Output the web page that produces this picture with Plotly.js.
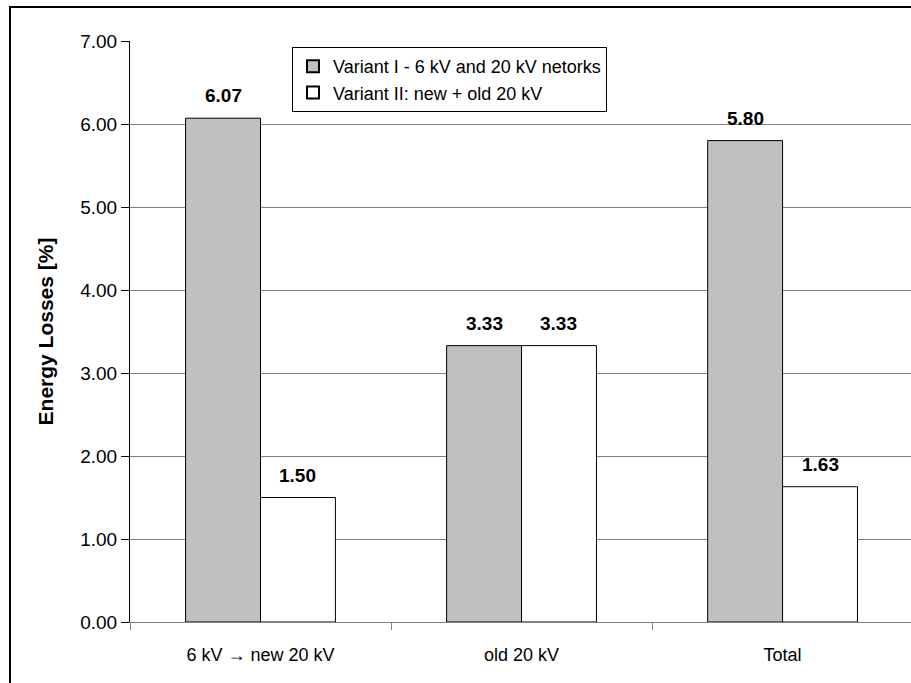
<!DOCTYPE html>
<html>
<head>
<meta charset="utf-8">
<script src="https://cdn.plot.ly/plotly-3.0.1.min.js"></script>
<style>
html,body{margin:0;padding:0;background:#fff;}
#chart{width:911px;height:683px;}
</style>
</head>
<body>
<div id="chart"></div>
<script>
var categories = ["6 kV \u2192 new 20 kV", "old 20 kV", "Total"];
var seriesNames = ["Variant I - 6 kV and 20 kV netorks", "Variant II: new + old 20 kV"];
var variant1 = [6.07, 3.33, 5.80];
var variant2 = [1.50, 3.33, 1.63];
var yTickValues = [0, 1, 2, 3, 4, 5, 6, 7];

var FONT = "Liberation Sans, Arial, sans-serif";
var bargap = 0.426;
var xRange = [-0.5, 2.492];
var plotW = 911 - 130;
var pxPerUnit = plotW / (xRange[1] - xRange[0]);
var barW = (1 - bargap) / 2;
var shiftPx = barW / 2 * pxPerUnit;

var traces = [
  {type: "bar", name: seriesNames[0], x: categories, y: variant1,
   marker: {color: "#c0c0c0", line: {color: "#000", width: 1}}, hoverinfo: "none"},
  {type: "bar", name: seriesNames[1], x: categories, y: variant2,
   marker: {color: "#ffffff", line: {color: "#000", width: 1}}, hoverinfo: "none"}
];

var annotations = [];
[variant1, variant2].forEach(function (vals, s) {
  vals.forEach(function (v, i) {
    annotations.push({
      x: categories[i], y: v, xref: "x", yref: "y",
      text: "<b>" + v.toFixed(2) + "</b>",
      showarrow: false, yanchor: "bottom", xanchor: "center",
      xshift: (s === 0 ? -1 : 1) * shiftPx, yshift: 10,
      font: {family: FONT, size: 19, color: "#000"}
    });
  });
});

var layout = {
  width: 911, height: 683,
  margin: {l: 130, r: 0, t: 41, b: 61},
  paper_bgcolor: "#fff", plot_bgcolor: "#fff",
  barmode: "group", bargap: bargap, bargroupgap: 0,
  showlegend: true,
  legend: {
    x: (292 - 130) / plotW, y: 1 - (47 - 41) / 581, xanchor: "left", yanchor: "top",
    bgcolor: "#fff", bordercolor: "#000", borderwidth: 1,
    font: {family: FONT, size: 18, color: "#000"},
    itemsizing: "constant", traceorder: "normal", itemwidth: 30
  },
  xaxis: {
    type: "category", range: xRange,
    showline: true, linecolor: "#808080", linewidth: 1,
    ticks: "outside", tickson: "boundaries", ticklen: 7, tickcolor: "#808080",
    showgrid: false, zeroline: false, ticklabelstandoff: 16,
    tickfont: {family: FONT, size: 18, color: "#000"},
    fixedrange: true
  },
  yaxis: {
    range: [0, 7], tickvals: yTickValues, tickformat: ".2f",
    showline: true, linecolor: "#000", linewidth: 1,
    ticks: "outside", ticklen: 8, tickcolor: "#000",
    showgrid: true, gridcolor: "#808080", gridwidth: 1, zeroline: false,
    tickfont: {family: FONT, size: 19, color: "#000"},
    title: {text: "<b>Energy Losses [%]</b>", font: {family: FONT, size: 21, color: "#000"}, standoff: 20},
    fixedrange: true
  },
  annotations: annotations,
  shapes: [{
    type: "rect", xref: "paper", yref: "paper",
    x0: (10 - 130) / plotW, x1: 1.05,
    y0: -0.3, y1: 1 + (41 - 7) / 581,
    line: {color: "#000", width: 2}, fillcolor: "rgba(0,0,0,0)", layer: "above"
  }]
};

Plotly.newPlot("chart", traces, layout, {displayModeBar: false, staticPlot: true});
</script>
</body>
</html>
